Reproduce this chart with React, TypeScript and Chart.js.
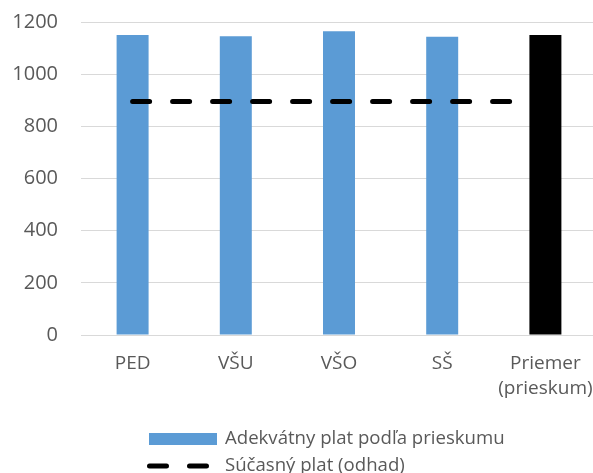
import React, { useEffect, useRef } from "react";
import { Chart, registerables } from "chart.js";

Chart.register(...registerables);

const categories: (string | string[])[] = ["PED", "VŠU", "VŠO", "SŠ", ["Priemer", "(prieskum)"]];
const surveySalary = [1150, 1145, 1165, 1143, 1150];
const currentSalary = [895, 895, 895, 895, 895];
const barColors = ["#5B9BD5", "#5B9BD5", "#5B9BD5", "#5B9BD5", "#000000"];
const seriesLabels = ["Adekvátny plat podľa prieskumu", "Súčasný plat (odhad)"];

const FONT = "'Open Sans', sans-serif";
const W = 597;
const H = 473;

const legendPlugin = {
  id: "customLegend",
  afterDraw(chart: any) {
    const ctx = chart.ctx;
    ctx.save();
    const boxX = 149;
    const textX = 225;
    const row1 = 439;
    const row2 = 466;
    ctx.fillStyle = "#5B9BD5";
    ctx.fillRect(boxX, row1 - 6, 68, 12);
    ctx.strokeStyle = "#000";
    ctx.lineWidth = 5;
    ctx.lineCap = "round";
    ctx.setLineDash([17, 23]);
    ctx.beginPath();
    ctx.moveTo(boxX + 0.5, row2);
    ctx.lineTo(boxX + 60, row2);
    ctx.stroke();
    ctx.setLineDash([]);
    ctx.fillStyle = "#595959";
    ctx.font = `18.6px ${FONT}`;
    ctx.textBaseline = "middle";
    ctx.textAlign = "left";
    ctx.fillText(seriesLabels[0], textX, row1);
    ctx.fillText(seriesLabels[1], textX, row2);
    ctx.restore();
  },
};

export default function App() {
  const ref = useRef<HTMLCanvasElement>(null);
  useEffect(() => {
    if (!ref.current) return;
    const chart = new Chart(ref.current, {
      type: "bar",
      data: {
        labels: categories,
        datasets: [
          {
            type: "line",
            label: seriesLabels[1],
            data: currentSalary,
            borderColor: "#000",
            borderWidth: 5,
            borderDash: [17, 23],
            borderCapStyle: "round",
            pointRadius: 0,
            fill: false,
            order: 0,
          } as any,
          {
            type: "bar",
            label: seriesLabels[0],
            data: surveySalary,
            backgroundColor: barColors,
            barPercentage: 0.31,
            categoryPercentage: 1,
            order: 1,
          },
        ],
      },
      options: {
        animation: false,
        responsive: false,
        layout: { padding: { top: 22, right: 0, left: 0, bottom: 0 } },
        plugins: { legend: { display: false }, tooltip: { enabled: false } },
        scales: {
          x: {
            grid: { display: false, drawTicks: false },
            border: { display: true, color: "#D9D9D9", width: 1 },
            ticks: {
              color: "#595959",
              font: { family: FONT, size: 19, lineHeight: 1.27 },
              padding: 17,
              maxRotation: 0,
              autoSkip: false,
            },
            afterFit(scale: any) {
              scale.height = 138;
              scale.paddingLeft = 0;
              scale.paddingRight = 0;
            },
          },
          y: {
            min: 0,
            max: 1200,
            grid: { color: "#D9D9D9", lineWidth: 1, drawTicks: false },
            border: { display: false },
            ticks: {
              stepSize: 200,
              color: "#595959",
              font: { family: FONT, size: 20 },
              padding: 23,
              callback: (v: any) => String(v),
            },
            afterFit(scale: any) {
              scale.width = 81;
              scale.paddingTop = 0;
              scale.paddingBottom = 0;
            },
          },
        },
      },
      plugins: [legendPlugin],
    });
    return () => chart.destroy();
  }, []);
  return (
    <div style={{ position: "fixed", left: 0, top: 0, width: 593, height: H, overflow: "hidden", background: "#fff" }}>
      <canvas ref={ref} width={W} height={H} style={{ width: W, height: H, display: "block" }} />
    </div>
  );
}
